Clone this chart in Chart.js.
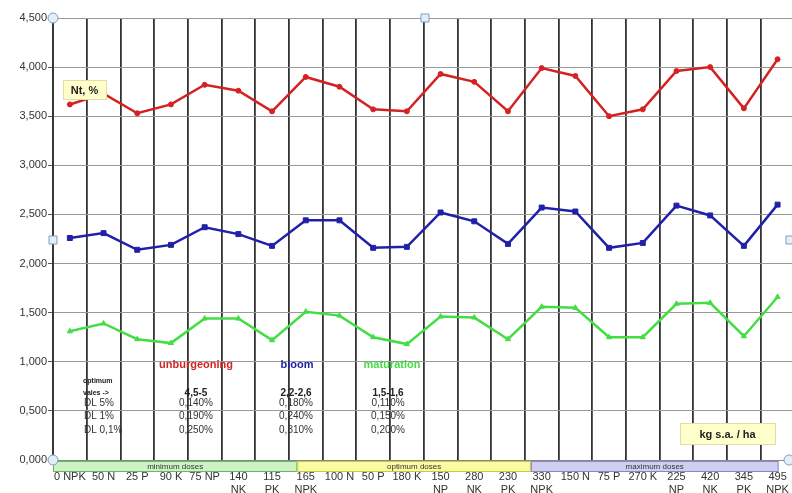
<!DOCTYPE html>
<html>
<head>
<meta charset="utf-8">
<script src="https://cdn.jsdelivr.net/npm/chart.js@4/dist/chart.umd.min.js"></script>
<style>
  html, body { margin: 0; padding: 0; background: #fff; overflow: hidden; }
  #wrap { width: 800px; height: 493px; }
</style>
</head>
<body>
<div id="wrap"><canvas id="ntChart"></canvas></div>
<script>
// doze de îngrăşăminte (kg s.a. / ha)
const categories = ['0 NPK', '50 N', '25 P', '90 K', '75 NP', '140 NK', '115 PK', '165 NPK',
    '100 N', '50 P', '180 K', '150 NP', '280 NK', '230 PK', '330 NPK',
    '150 N', '75 P', '270 K', '225 NP', '420 NK', '345 PK', '495 NPK'];

// Nt, % pe faze
const unburgeoning = [3.62, 3.73, 3.53, 3.62, 3.82, 3.76, 3.55, 3.90, 3.80, 3.57, 3.55,
    3.93, 3.85, 3.55, 3.99, 3.91, 3.50, 3.57, 3.96, 4.00, 3.58, 4.08];
const bloom = [2.26, 2.31, 2.14, 2.19, 2.37, 2.30, 2.18, 2.44, 2.44, 2.16, 2.17,
    2.52, 2.43, 2.20, 2.57, 2.53, 2.16, 2.21, 2.59, 2.49, 2.18, 2.60];
const maturation = [1.31, 1.39, 1.23, 1.19, 1.44, 1.44, 1.22, 1.51, 1.47, 1.25, 1.18,
    1.46, 1.45, 1.23, 1.56, 1.55, 1.25, 1.25, 1.59, 1.60, 1.26, 1.66];

const yTicks = [0, 0.5, 1, 1.5, 2, 2.5, 3, 3.5, 4, 4.5];

// grupe de doze
const doseGroups = ['minimum doses', 'optimum doses', 'maximum doses'];

// tabel valori optime / DL
const optimumValues = ['4,5-5', '2,2-2,6', '1,5-1,6'];
const dlRows = ['DL 5%', 'DL 1%', 'DL 0,1%'];
const dlValues = [
    ['0,140%', '0,190%', '0,250%'],
    ['0,180%', '0,240%', '0,310%'],
    ['0,110%', '0,150%', '0,200%']
];

const RED = '#d42222';
const BLUE = '#2020a8';
const GREEN = '#44dd44';
const FONT = '"Liberation Sans", Arial, sans-serif';

function fmt(v) {
    return v.toFixed(3).replace('.', ',');
}

// eticheta pe două rânduri dacă e prea lungă
function wrapLabel(label) {
    if (label.length > 5) {
        const i = label.indexOf(' ');
        return [label.slice(0, i), label.slice(i + 1)];
    }
    return label;
}

function drawBox(ctx, x, y, w, h, text) {
    ctx.fillStyle = '#ffffcc';
    ctx.fillRect(x, y, w, h);
    ctx.strokeStyle = '#e6dca0';
    ctx.lineWidth = 1;
    ctx.strokeRect(x + 0.5, y + 0.5, w, h);
    ctx.fillStyle = '#222';
    ctx.font = 'bold 11px ' + FONT;
    ctx.textAlign = 'center';
    ctx.textBaseline = 'middle';
    ctx.fillText(text, x + w / 2, y + h / 2 + 1);
}

function handle(ctx, x, y, round) {
    ctx.fillStyle = '#e4eef6';
    ctx.strokeStyle = '#7f9fbf';
    ctx.lineWidth = 1;
    ctx.beginPath();
    if (round) ctx.arc(x, y, 5, 0, Math.PI * 2);
    else ctx.rect(x - 4, y - 4, 8, 8);
    ctx.fill();
    ctx.stroke();
}

const extrasPlugin = {
    id: 'extras',
    afterDraw(chart) {
        const ctx = chart.ctx;
        const a = chart.chartArea;
        const xs = chart.scales.x;
        ctx.save();

        // benzile cu grupele de doze
        const bounds = [-0.5, 6.75, 13.68, 21.03];
        const fills = ['#ccf2c4', '#fbfba0', '#cfcff2'];
        const borders = ['#66bb66', '#c8c850', '#8888c8'];
        doseGroups.forEach((g, i) => {
            const x1 = xs.getPixelForValue(bounds[i]);
            const x2 = xs.getPixelForValue(bounds[i + 1]);
            ctx.fillStyle = fills[i];
            ctx.fillRect(x1, a.bottom + 1, x2 - x1, 11);
            ctx.strokeStyle = borders[i];
            ctx.lineWidth = 1;
            ctx.strokeRect(x1 + 0.5, a.bottom + 1.5, x2 - x1 - 1, 10);
            ctx.fillStyle = '#333';
            ctx.font = '8px ' + FONT;
            ctx.textAlign = 'center';
            ctx.textBaseline = 'middle';
            ctx.fillText(g, (x1 + x2) / 2, a.bottom + 6.5);
        });

        // legenda fazelor
        ctx.font = 'bold 11px ' + FONT;
        ctx.textAlign = 'center';
        ctx.textBaseline = 'middle';
        ctx.fillStyle = RED;
        ctx.fillText('unburgeoning', 196, 365);
        ctx.fillStyle = BLUE;
        ctx.fillText('bloom', 297, 365);
        ctx.fillStyle = GREEN;
        ctx.fillText('maturation', 392, 365);

        // tabel
        const cols = [196, 296, 388];
        ctx.fillStyle = '#222';
        ctx.textAlign = 'left';
        ctx.font = 'bold 7px ' + FONT;
        ctx.fillText('optimum', 83, 381);
        ctx.fillText('vales ->', 83, 393);
        ctx.textAlign = 'center';
        ctx.font = 'bold 10px ' + FONT;
        optimumValues.forEach((v, i) => ctx.fillText(v, cols[i], 393));
        ctx.font = '10px ' + FONT;
        ctx.fillStyle = '#333';
        dlRows.forEach((r, j) => {
            const y = 403 + j * 13.5;
            ctx.textAlign = 'left';
            ctx.fillText(r, 84, y);
            ctx.textAlign = 'center';
            dlValues.forEach((col, i) => ctx.fillText(col[j], cols[i], y));
        });

        // casete text
        drawBox(ctx, 63, 80, 43, 19, 'Nt, %');
        drawBox(ctx, 680, 423, 95, 21, 'kg s.a. / ha');

        // mânere de selecţie (captură din Excel)
        handle(ctx, a.left, a.top, true);
        handle(ctx, 425, a.top, false);
        handle(ctx, a.left, 240, false);
        handle(ctx, 790, 240, false);
        handle(ctx, a.left, a.bottom, true);
        handle(ctx, 789, a.bottom, true);

        ctx.restore();
    }
};

function series(label, data, color, style, radius) {
    return {
        label: label,
        data: data,
        borderColor: color,
        backgroundColor: color,
        borderWidth: 2.5,
        pointStyle: style,
        pointRadius: radius,
        pointBorderWidth: 1,
        tension: 0
    };
}

new Chart(document.getElementById('ntChart'), {
    type: 'line',
    data: {
        labels: categories,
        datasets: [
            series('unburgeoning', unburgeoning, RED, 'circle', 2.5),
            series('bloom', bloom, BLUE, 'rect', 3.5),
            series('maturation', maturation, GREEN, 'triangle', 3)
        ]
    },
    options: {
        responsive: true,
        maintainAspectRatio: false,
        animation: false,
        layout: { padding: { top: 18, left: 0, right: 4, bottom: 0 } },
        plugins: {
            legend: { display: false },
            tooltip: { enabled: false }
        },
        scales: {
            x: {
                offset: true,
                afterFit(scale) { scale.height = 33; },
                grid: {
                    offset: true,
                    color: '#333',
                    lineWidth: 1.8,
                    drawTicks: false
                },
                border: { color: '#888', width: 1 },
                ticks: {
                    autoSkip: false,
                    maxRotation: 0,
                    padding: 11,
                    color: '#333',
                    font: { family: FONT, size: 11, lineHeight: 1.15 },
                    callback(value) { return wrapLabel(categories[value]); }
                }
            },
            y: {
                min: 0,
                max: 4.5,
                afterFit(scale) { scale.width = 53; },
                afterBuildTicks(scale) { scale.ticks = yTicks.map(v => ({ value: v })); },
                grid: {
                    color: '#999',
                    lineWidth: 1,
                    tickLength: 5,
                    tickColor: '#555'
                },
                border: { color: '#333', width: 1.8 },
                ticks: {
                    padding: 1,
                    color: '#333',
                    font: { family: FONT, size: 11 },
                    callback(value) { return fmt(value); }
                }
            }
        }
    },
    plugins: [extrasPlugin]
});
</script>
</body>
</html>
